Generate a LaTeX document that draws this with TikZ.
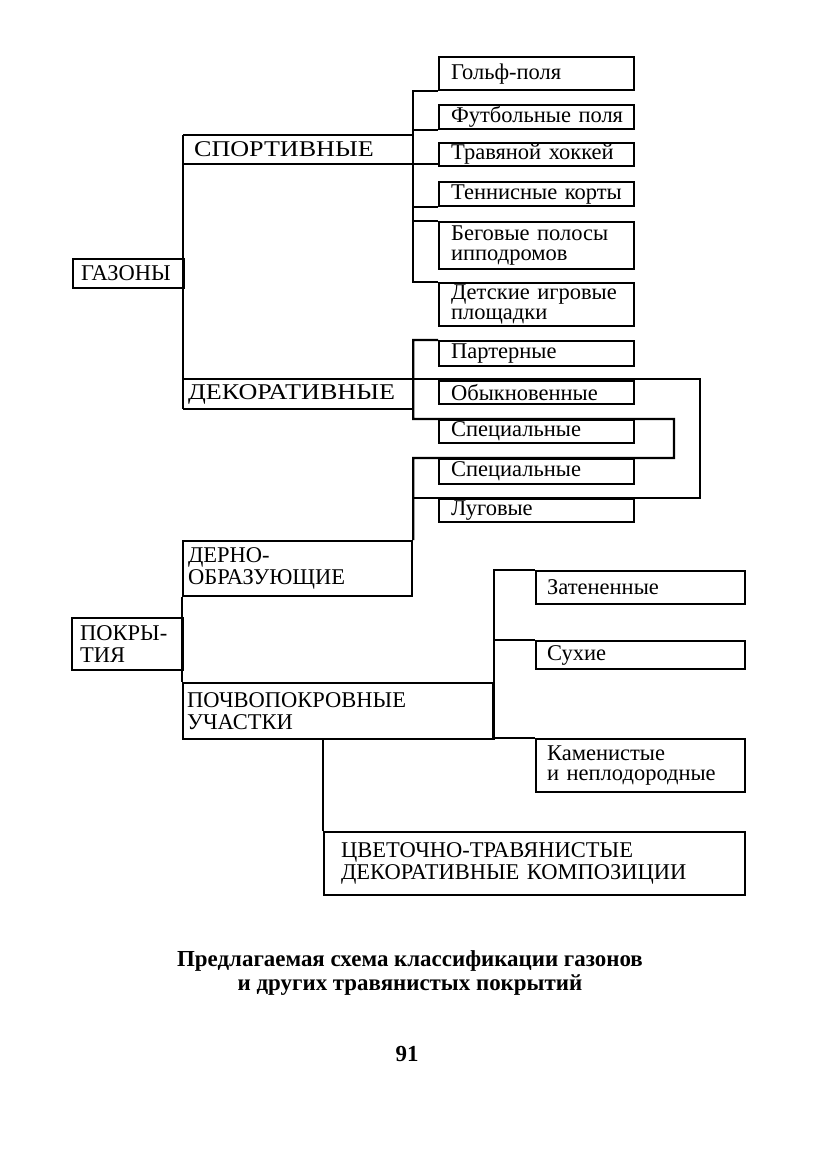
\documentclass[tikz,border=0pt]{standalone}
\usepackage{fontspec}
\setmainfont{Liberation Serif}
\newfontfamily\wideserif{Liberation Serif}[FakeStretch=1.16]

\begin{document}
\begin{tikzpicture}[
  x=0.025cm, y=-0.025cm,
  line/.style={line width=1.6pt},
  box/.style={draw, line width=1.6pt, anchor=north west, align=left, inner ysep=0pt, font=\fontsize{16}{16}\selectfont},
  group/.style={box, draw=none, font=\wideserif\fontsize{16}{16}\selectfont},
  leaf/.style={draw, line width=1.6pt, anchor=north west, align=left, inner ysep=0pt, inner xsep=0.3cm, text width=4.275cm, font=\fontsize{16}{14.5}\selectfont},
  rleaf/.style={leaf, inner xsep=0.275cm, text width=4.675cm},
  caption/.style={align=center, font=\bfseries\fontsize{16.3}{17}\selectfont}
]
\useasboundingbox (0,0) rectangle (834,1172);

% Nodes
\node[box, text width=2.375cm, inner xsep=0.2cm, minimum height=0.725cm] (gazony) at (72,258) {ГАЗОНЫ};
\node[group, text width=5.2cm, inner xsep=0.25cm, minimum height=0.675cm] (sport) at (183,135) {СПОРТИВНЫЕ};
\node[group, text width=5.5cm, inner xsep=0.1cm, minimum height=0.7cm] (decor) at (183,379) {ДЕКОРАТИВНЫЕ};

\node[leaf, minimum height=0.825cm] (golf) at (438,56) {Гольф-поля};
\node[leaf, minimum height=0.6cm] (foot) at (438,104) {Футбольные~поля};
\node[leaf, minimum height=0.575cm] (hockey) at (438,142) {Травяной~хоккей};
\node[leaf, minimum height=0.6cm] (tennis) at (438,181) {Теннисные~корты};
\node[leaf, minimum height=1.175cm] (race) at (438,221) {Беговые полосы\\ипподромов};
\node[leaf, minimum height=1.075cm] (kids) at (438,282) {Детские игровые\\площадки};

\node[leaf, minimum height=0.625cm] (parter) at (438,340) {Партерные};
\node[leaf, minimum height=0.575cm] (usual) at (438,380) {Обыкновенные};
\node[leaf, minimum height=0.575cm] (specA) at (438,419) {Специальные};
\node[leaf, minimum height=0.625cm] (specB) at (438,458) {Специальные};
\node[leaf, minimum height=0.575cm] (meadow) at (438,498) {Луговые};

\node[box, text width=2.375cm, inner xsep=0.2cm, minimum height=1.3cm] (pokr) at (71,617) {ПОКРЫ-\\ТИЯ};
\node[box, text width=5.475cm, inner xsep=0.125cm, minimum height=1.375cm] (derno) at (182,540) {ДЕРНО-\\ОБРАЗУЮЩИЕ};
\node[box, text width=7.55cm, inner xsep=0.1cm, minimum height=1.4cm] (pochvo) at (182,682) {ПОЧВОПОКРОВНЫЕ\\УЧАСТКИ};

\node[rleaf, minimum height=0.825cm] (shade) at (535,570) {Затененные};
\node[rleaf, minimum height=0.7cm] (dry) at (535,640) {Сухие};
\node[rleaf, minimum height=1.325cm] (stone) at (535,738) {Каменистые\\и неплодородные};
\node[box, text width=9.675cm, inner xsep=0.425cm, minimum height=1.575cm] (flower) at (323,831) {ЦВЕТОЧНО-ТРАВЯНИСТЫЕ\\ДЕКОРАТИВНЫЕ КОМПОЗИЦИИ};

\coordinate (inner) at (674,0);
\coordinate (outer) at (700,0);

\node[caption] (title) at (410,973) {Предлагаемая схема классификации газонов\\и других травянистых покрытий};
\node[caption] (page) at (407,1054) {91};

% Lines
\draw[line] (sport.north west) -- (decor.south west);
\draw[line] (sport.north west) -- (sport.north east);
\draw[line] (sport.south west) -- (sport.south west -| hockey.west);
\draw[line] (golf.south west) -| (kids.north west -| sport.east) -- (kids.north west);
\draw[line] (foot.south west) -- (foot.south west -| sport.east);
\draw[line] (tennis.south west) -- (tennis.south west -| sport.east);
\draw[line] (race.north west) -- (race.north west -| sport.east);

\draw[line] (parter.north west) -| (specA.north -| decor.east) -- (specA.north -| inner) |- (specB.north -| decor.east) -- (derno.north east);
\draw[line] (decor.north west) -- (decor.north west -| outer) |- (meadow.north -| decor.east);
\draw[line] (decor.south west) -- (decor.south east);

\draw[line] (derno.south west) -- (pochvo.north west);
\draw[line] (shade.north west) -| (pochvo.south east);
\draw[line] (dry.north west) -- (dry.north west -| pochvo.east);
\draw[line] (stone.north west) -- (stone.north west -| pochvo.east);
\draw[line] (flower.north west) -- (flower.north west |- pochvo.south);

\end{tikzpicture}
\end{document}
